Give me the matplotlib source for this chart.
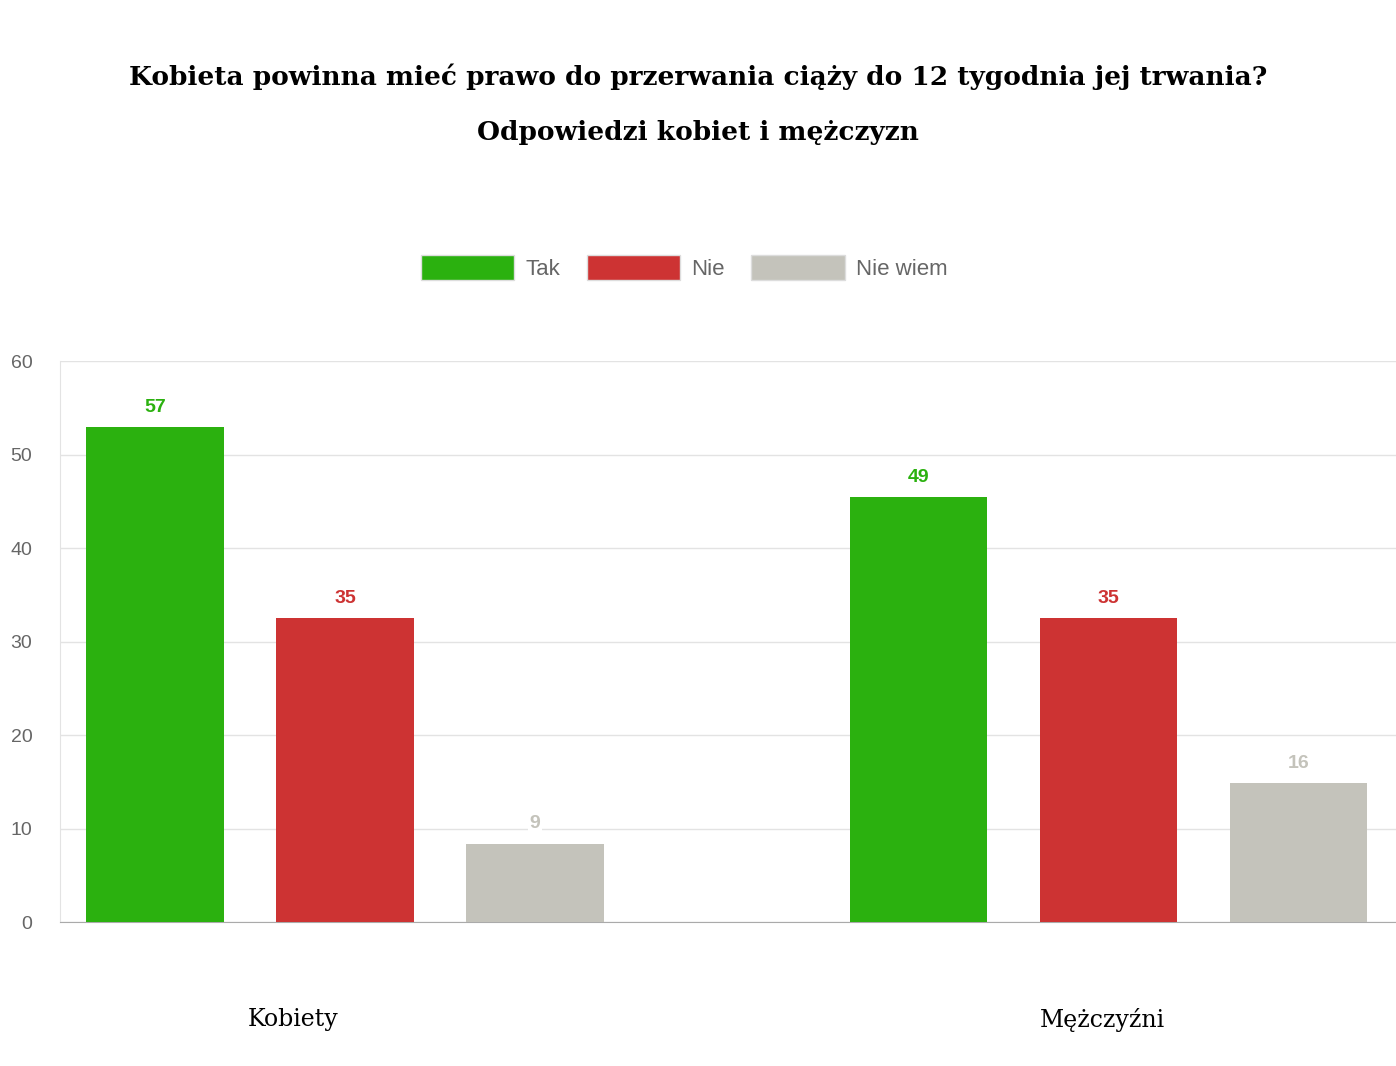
import matplotlib
matplotlib.use("Agg")
import matplotlib.pyplot as plt
from matplotlib.patches import Patch

categories = ["Kobiety", "Mężczyźni"]
series = ["Tak", "Nie", "Nie wiem"]
labels_tak = [57, 49]
labels_nie = [35, 35]
labels_nw = [9, 16]
# bar heights as drawn on the axis
heights_tak = [53.0, 45.5]
heights_nie = [32.5, 32.5]
heights_nw = [8.4, 14.9]
colors = ["#2bb10f", "#cd3333", "#c4c3bb"]

fig = plt.figure(figsize=(13.96, 10.66), dpi=100)
ax = fig.add_axes([0.043, 0.135, 0.957, 0.526])
offs = [-0.249, 0, 0.249]
w = 0.18
for s, (h, lab, c, o) in enumerate(zip([heights_tak, heights_nie, heights_nw],
                                       [labels_tak, labels_nie, labels_nw], colors, offs)):
    for i in range(len(categories)):
        x = i + o
        ax.bar(x, h[i], width=w, color=c, zorder=3)
        ax.text(x, h[i] + 1.2, str(lab[i]), ha="center", va="bottom", color=c,
                fontsize=14, fontweight="bold", family="Liberation Sans", zorder=4,
                bbox=dict(facecolor="white", edgecolor="none", pad=1))
ax.set_xlim(-0.3735, 1.377)
ax.set_ylim(0, 60)
ax.set_yticks(range(0, 61, 10))
ax.grid(axis="y", color="#e3e3e3", lw=1, zorder=0)
ax.set_xticks([-0.068, 0.993])
ax.set_xticklabels(categories, fontsize=17, family="DejaVu Serif")
ax.tick_params(axis="x", length=0, pad=62)
ax.tick_params(axis="y", length=0, labelsize=14, colors="#666666", pad=20)
for sp in ["top", "right"]:
    ax.spines[sp].set_visible(False)
ax.spines["left"].set_color("#e3e3e3")
ax.spines["bottom"].set_color("#aaaaaa")
for t in ax.get_yticklabels():
    t.set_family("Liberation Sans")

fig.text(0.5, 0.928, "Kobieta powinna mieć prawo do przerwania ciąży do 12 tygodnia jej trwania?",
         ha="center", va="center", fontsize=19, fontweight="bold", family="DejaVu Serif")
fig.text(0.5, 0.876, "Odpowiedzi kobiet i mężczyzn", ha="center", va="center",
         fontsize=19, fontweight="bold", family="DejaVu Serif")

handles = [Patch(facecolor=c, edgecolor="#dddddd") for c in colors]
fig.legend(handles, series, loc="center", bbox_to_anchor=(0.49, 0.749), ncol=3, frameon=False,
           handlelength=4.2, handleheight=1.4, handletextpad=0.5, columnspacing=1.2,
           prop={"family": "Liberation Sans", "size": 16}, labelcolor="#666666")
fig.savefig("out.png", dpi=100, facecolor="white")
